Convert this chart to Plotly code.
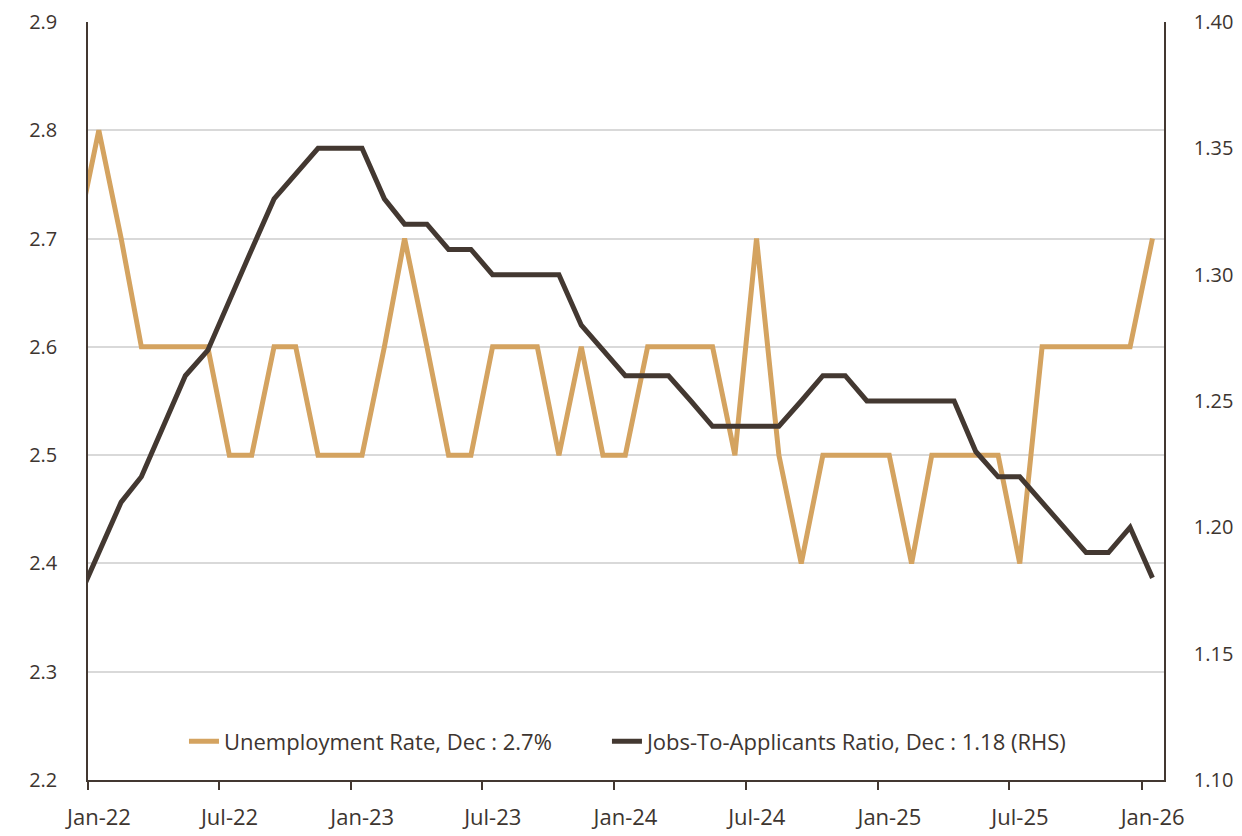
import pandas as pd
import plotly.graph_objects as go

# Monthly data, Nov-2021 .. Dec-2025 (last value = Dec 2025)
data_months = [str(p) for p in pd.period_range("2021-11", "2025-12", freq="M")]

unemployment_rate = [
    2.7, 2.8, 2.7, 2.6, 2.6, 2.6, 2.6, 2.5, 2.5, 2.6,
    2.6, 2.5, 2.5, 2.5, 2.6, 2.7, 2.6, 2.5, 2.5, 2.6,
    2.6, 2.6, 2.5, 2.6, 2.5, 2.5, 2.6, 2.6, 2.6, 2.6,
    2.5, 2.7, 2.5, 2.4, 2.5, 2.5, 2.5, 2.5, 2.4, 2.5,
    2.5, 2.5, 2.5, 2.4, 2.6, 2.6, 2.6, 2.6, 2.6, 2.7,
]
jobs_to_applicants = [
    1.17, 1.19, 1.21, 1.22, 1.24, 1.26, 1.27, 1.29, 1.31, 1.33,
    1.34, 1.35, 1.35, 1.35, 1.33, 1.32, 1.32, 1.31, 1.31, 1.30,
    1.30, 1.30, 1.30, 1.28, 1.27, 1.26, 1.26, 1.26, 1.25, 1.24,
    1.24, 1.24, 1.24, 1.25, 1.26, 1.26, 1.25, 1.25, 1.25, 1.25,
    1.25, 1.23, 1.22, 1.22, 1.21, 1.20, 1.19, 1.19, 1.20, 1.18,
]

x_tick_dates = ["2022-01-01", "2022-07-01", "2023-01-01", "2023-07-01", "2024-01-01",
                "2024-07-01", "2025-01-01", "2025-07-01", "2026-01-01"]
x_tick_labels = ["Jan-22", "Jul-22", "Jan-23", "Jul-23", "Jan-24",
                 "Jul-24", "Jan-25", "Jul-25", "Jan-26"]

legend_unemp = "Unemployment Rate, Dec : 2.7%"
legend_jobs = "Jobs-To-Applicants Ratio, Dec : 1.18 (RHS)"

# The source chart centres each month's value in the following month's slot
x_pos = (pd.PeriodIndex(data_months, freq="M") + 1).to_timestamp() + pd.Timedelta(days=15)

ORANGE = "#D4A360"
DARK = "#433831"
TEXT = "#3d3530"
FONT = "Open Sans"
FS = 22
YFS = 20

fig = go.Figure()
fig.add_trace(go.Scatter(x=x_pos, y=unemployment_rate, name=legend_unemp, mode="lines",
                         line=dict(color=ORANGE, width=5), yaxis="y", legend="legend"))
fig.add_trace(go.Scatter(x=x_pos, y=jobs_to_applicants, name=legend_jobs, mode="lines",
                         line=dict(color=DARK, width=5), yaxis="y2", legend="legend2"))

leg_common = dict(orientation="h", xanchor="left", y=0.051, yanchor="middle",
                  bgcolor="rgba(0,0,0,0)", font=dict(size=FS, color=TEXT))

# page body adds an 8px margin, so the figure is 8px smaller and margins shifted
fig.update_layout(
    width=1234, height=828,
    margin=dict(l=80, r=78, t=14, b=56, autoexpand=False),
    paper_bgcolor="white", plot_bgcolor="white",
    font=dict(family=FONT, size=FS, color=TEXT),
    hovermode=False,
    showlegend=True,
    legend=dict(x=0.0892, **leg_common),
    legend2=dict(x=0.4823, **leg_common),
    xaxis=dict(type="date", range=["2022-01-01", "2026-02-01"],
               tickvals=x_tick_dates, ticktext=x_tick_labels, automargin=False,
               showgrid=False, showline=True, linecolor=DARK, linewidth=1.5,
               ticks="outside", ticklen=8, tickwidth=1.5, tickcolor=DARK,
               ticklabelshift=11, ticklabelstandoff=9, ticklabeloverflow="allow",
               zeroline=False),
    yaxis=dict(range=[2.2, 2.9], dtick=0.1, tick0=2.2, tickformat=".1f", automargin=False,
               showgrid=True, gridcolor="#d9d9d9", gridwidth=1.5,
               showline=True, linecolor=DARK, linewidth=1.5, tickfont=dict(size=YFS),
               ticks="", ticklabelstandoff=25, ticklabelshift=0,
               ticklabeloverflow="allow", zeroline=False),
    yaxis2=dict(range=[1.10, 1.40], dtick=0.05, tick0=1.10, tickformat=".2f", automargin=False,
                overlaying="y", side="right", showgrid=False,
                showline=True, linecolor=DARK, linewidth=1.5, tickfont=dict(size=YFS),
                ticks="", ticklabelstandoff=24, ticklabelshift=0,
                ticklabeloverflow="allow", zeroline=False),
)

fig.write_html("out.html")
